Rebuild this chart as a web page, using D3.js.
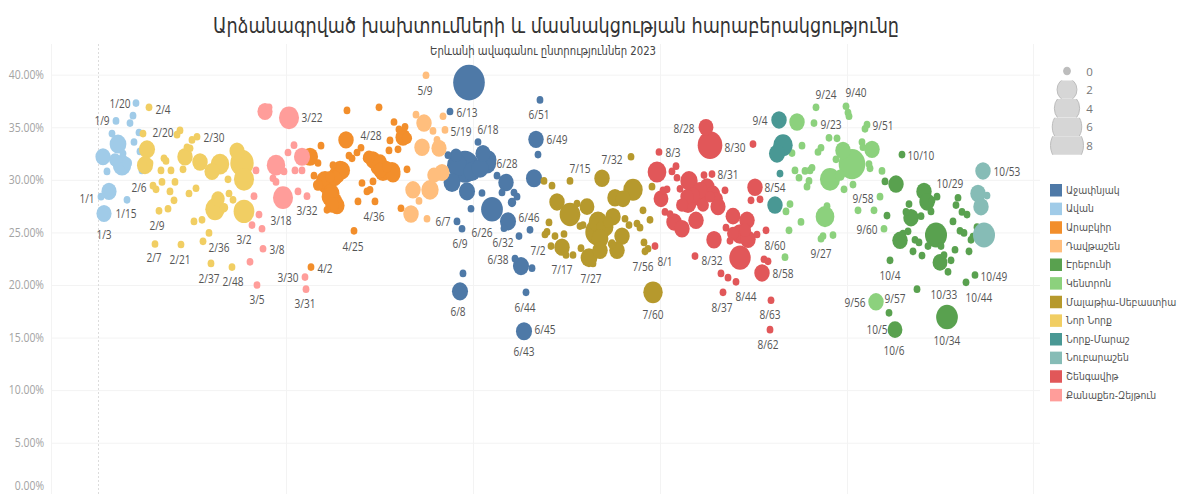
<!DOCTYPE html>
<html lang="hy"><head><meta charset="utf-8">
<script src="https://cdn.jsdelivr.net/npm/d3@7/dist/d3.min.js"></script>
<style>html,body{margin:0;padding:0;background:#fff;overflow:hidden}svg{display:block}</style>
</head><body><svg id="c" width="1185" height="494"></svg>
<script>
// Hidden horizontal axis: unitless position, gridlines every 187 units.
const avanX=[37,34,17,31,13,40,35,41,19,24,4,16,23,28,8,43,10,2,28,5];
const avanY=[37.3,36.1,35.6,35.4,34.4,34.5,33.6,32.7,33.4,32.5,32.2,31.9,31.4,31.6,30.8,30.9,28.9,28.4,28.1,26.8];
const avanSize=[0,0,0,0,0,0,0,0,1.16,0,.81,.3,1.58,.13,0,0,.81,0,0,.81];

const norNorkX=[50,44,81,78,98,93,48,46,51,88,91,86,101,65,67,62,72,84,121,113,138,143,145,129,54,57,63,76,71,97,90,75,69,60,130,134,119,116,125,145,95,103,110,56,82,104,112,133];
const norNorkY=[36.9,34.4,34.7,34.3,34.1,33.8,32.9,31.4,31.6,33.1,33,32.2,31.7,32.05,31.8,30.9,30.9,31,31.5,30.8,32.75,31.6,30.05,30.05,29.45,29.1,29.8,29.8,28.9,29.2,28.7,28.05,27.25,27.05,28.7,28.1,28.2,27.2,27.35,27,26.05,26.2,24.95,23.9,23.85,24.15,22.05,21.7];
const norNorkSize=[0,0,0,0,0,0,1,1,0,0,0,.87,.87,0,0,0,0,0,1.58,.81,.81,3.2,2.06,0,0,0,0,0,0,0,0,0,0,0,0,0,.52,1.86,.03,2.27,0,0,0,0,0,0,0,0];

const kanakerX=[166,170,190,195,189,203,177,185,174,177,196,203,157,184,199,155,160,153,163,164,151,158,206,207,208];
const kanakerY=[36.5,36.9,35.9,33.3,32.6,32.2,31.4,30.8,30.15,29.8,30.9,30.9,30.9,28.3,28.9,28.45,26.7,25.7,25.35,23.45,22.2,20,20.75,19.6,28.45];
const kanakerSize=[.81,0,2.06,0,0,1,1.58,0,0,0,0,0,0,2.06,0,0,0,0,0,0,0,0,0,0,0];

const arabkirX=[248,280,295,306,300,304,308,291,299,290,222,247,262,258,250,253,211,219,268,274,281,279,284,293,288,308,215,241,234,236,226,231,219,263,274,271,268,231,238,228,233,259,276,302,255,212,270,277,284,288,281,294,228,238,232,235,243];
const arabkirY=[36.6,36.9,35.5,35.05,34.8,34.05,33.95,33.75,32.9,32.8,33.25,33.8,33.05,32.6,32.3,32.05,32.2,31.6,32.05,31.9,31.7,31.25,30.8,30.8,31.25,31,30.4,30.95,31.4,30.15,29.85,30.3,29.5,29.7,29.85,29.05,28.9,28.4,27.55,27.15,27.6,27.95,27.95,27.3,25.15,21.7,32.15,31.6,31.2,30.9,30.9,30.55,29.7,30.5,28.7,27.9,30.9];
const arabkirSize=[0,0,0,0,0,.81,.13,0,0,0,0,.87,0,0,0,0,1,0,.03,.81,.52,.81,1.16,1.16,.13,0,0,1,0,.52,1.58,.13,.13,0,0,0,0,1.16,.81,0,.52,0,0,0,0,0,.3,.5,.6,.8,.5,.8,1.9,1,1.2,1.2,1];

const davtashenX=[327,317,344,325,334,346,323,338,340,343,335,314,331,320,312,328];
const davtashenY=[39.95,36.2,36.05,35.4,34.65,34.75,33.1,33.8,33,30.7,30.45,29.05,29.05,28,26.75,26.3];
const davtashenSize=[0,0,0,.87,0,0,.87,0,.81,.81,.52,.87,1.3,0,.87,0];

const ajapnyakX=[370,351,441,437,439,379,384,388,381,357,349,366,353,368,398,407,435,383,415,418,403,413,372,393,409,405,358,363,431,420,416,422,433,364,361,427,425,358,373,389];
const ajapnyakY=[39.25,36.5,37.6,33.85,32.4,33.6,32.5,31.6,31.1,32.35,32.35,31.25,29.75,28.9,30.4,29.75,30.15,28.75,28.8,28.4,28.8,27.85,27.25,27.2,26.05,25.4,26.05,25.35,25.25,24.65,22.5,21.8,21.6,21.1,19.4,19.3,15.6,31.4,30.8,31.9];
const ajapnyakSize=[7.2,0,0,.87,0,0,.81,1.58,1.16,.3,0,5.4,1.16,1,0,.87,1,0,0,0,0,.03,0,2.6,1,0,0,0,0,0,0,1,0,0,1,0,1,2,1.2,1.2];

const malatiaX=[445,453,471,503,532,458,471,478,488,450,448,446,456,465,452,463,467,474,482,481,484,499,498,514,509,526,530,523,518,513,501,490,494,516,524,534,544,551,538,541,553,545,549,546,554,506,501];
const malatiaY=[29.9,29.45,29.9,30.15,32.2,27.9,26.7,27.75,27.45,25.95,25.05,24.8,24.65,24.85,23.7,23.6,22.85,22.85,23.5,25.6,25.7,26,25.05,26.5,26,26.3,25.7,24.65,23.3,23.9,23.3,22.6,22.05,28.3,28.2,29.05,27.1,26.2,25.85,25.45,29.35,24.05,23.45,23.2,19.3,25.5,24.4];
const malatiaSize=[0,0,0,.87,0,.87,2.27,0,.75,0,0,0,0,0,0,.87,0,0,0,0,0,1.58,3.2,.87,.13,0,0,.87,.87,.03,.87,1.16,0,.87,.75,1.86,0,0,0,0,0,0,0,0,1.86,1.16,1.16];

const shengavitX=[560,607,611,654,577,573,558,605,613,578,590,581,568,564,562,626,608,601,589,619,594,611,656,566,571,575,583,597,634,648,652,661,627,667,641,649,658,631,615,556,596,641,665,669,663,622,629,637,624,672,671,601,614,588,604,618,583,634,646];
const shengavitY=[32.65,35,33.3,33.4,31.3,30.8,30.75,30.45,30.55,30.2,29.9,29.15,29.1,29,28.2,29,29.35,28.4,27.75,27.45,28.55,28.4,29.3,26.95,26.75,26,25.35,26.15,26.55,26.15,28.05,28.15,25.45,25.2,24.85,24.35,24.8,24.2,24.3,23.7,22.75,22.6,22.45,22.25,21.15,21.1,20.7,20.3,19.3,18.55,15.75,29,28.7,28.4,27.6,28.2,27.6,24.9,25.2];
const shengavitSize=[0,.75,3.7,0,0,0,1.65,0,0,0,1.3,0,0,0,.75,0,.81,1.16,1.16,.81,.52,.13,.87,0,0,.87,.87,.87,.75,.87,0,0,0,0,1.3,.87,0,0,.87,0,0,2.5,0,0,.87,0,0,0,0,0,0,.75,.6,.5,.3,.3,.3,.3,.3];

const norkMarashX=[680,684,678,681,676];
const norkMarashY=[35.7,33.3,32.5,30.6,27.6];
const norkMarashSize=[.87,1.86,1,0,.87];

const kentronX=[698,717,715,747,749,750,768,766,730,738,763,764,703,693,722,719,773,744,737,753,731,741,770,771,696,706,711,713,783,700,710,708,754,745,781,691,687,759,775,726,728,702,690,785,734,724,722,686,777];
const kentronY=[35.5,36.9,35.4,37,36.4,36.05,35.25,34.85,34,33.95,33.6,33.1,33.25,32.55,33.05,32.65,32.9,32.8,31.95,31.5,30.05,30.45,31.5,31.1,30.9,30.85,30.9,31.15,30.85,30.2,29.9,29.35,29.55,29.1,28.4,27.7,27,27.1,27.1,26.5,27.5,26,25.2,25.35,24.75,24.65,24.4,22.65,18.4];
const kentronSize=[.87,0,0,0,0,0,0,0,0,0,0,0,0,0,0,0,.87,.87,0,4.6,2.06,.13,0,0,0,0,0,0,0,0,0,0,0,0,0,0,0,0,0,1.65,0,0,0,0,0,0,0,0,.87];

const nubarashenX=[884,879,888,882,885];
const nubarashenY=[30.85,28.7,28.5,27.45,24.75];
const nubarashenSize=[.87,.87,0,.87,2.7];

const erebuniX=[803,786,797,825,828,833,838,810,859,857,832,863,868,788,807,812,822,854,837,809,804,801,816,820,861,865,878,874,872,829,842,814,823,856,870,841,845,852,791,849,876,867,818,790,848,796];
const erebuniY=[32.4,29.85,29.6,28.9,27.9,28.05,28.4,27.7,28.3,27.6,27,26.95,26.7,26.6,26.95,26.4,26.55,26.05,24.75,25.1,24.9,24.25,24.3,24.05,25.15,24.95,25.5,24.6,24.3,23.7,23.7,23.2,22.8,23.35,23.2,22.15,22.85,22.35,22.35,21.25,20.95,20.25,19.6,17.35,16.95,15.75];
const erebuniSize=[0,0,.87,.87,.87,0,0,0,0,0,0,0,0,0,0,.87,0,0,2.7,0,0,.87,0,0,0,0,0,0,0,0,0,0,0,0,0,.75,0,0,0,0,0,0,0,0,2.6,.75];

const labelText=["1/20","1/9","1/1","1/15","1/3","2/4","2/20","2/30","2/6","2/9","2/7","2/21","2/36","2/37","2/48","3/2","3/22","3/18","3/32","3/8","3/30","3/5","3/31","4/28","4/36","4/25","4/2","5/9","5/19","6/7","6/13","6/18","6/28","6/51","6/49","6/26","6/46","6/32","6/38","6/9","6/8","6/44","6/45","6/43","7/2","7/15","7/32","7/17","7/27","7/56","7/60","8/28","8/30","8/3","8/31","8/54","8/60","8/58","8/1","8/32","8/44","8/37","8/63","8/62","9/4","9/24","9/40","9/23","9/51","9/58","9/60","9/27","9/56","9/57","10/53","10/10","10/29","10/4","10/33","10/44","10/49","10/5","10/6","10/34"];
const labelX=[21,3,-12,27,5,64,64,115,40,58,55,81,120,110,134,145,213,182,208,178,189,158,206,272,275,254,226,326,362,344,368,389,408,440,458,383,430,404,399,361,359,426,446,425,439,481,513,463,492,544,554,585,636,574,629,676,676,684,566,613,647,623,671,669,661,727,757,732,784,764,768,722,756,796,908,822,851,791,845,880,895,778,795,848];
const labelY=[37.3,35.6,28.2,26.8,24.85,36.7,34.55,34.05,29.3,25.7,22.6,22.45,23.55,20.65,20.3,24.35,35.9,26.1,27.05,23.35,20.75,18.6,18.2,34.2,26.5,23.7,21.55,38.5,34.6,26,36.4,34.8,31.6,36.25,33.8,24.95,26.4,24,22.4,23.9,17.45,17.9,15.77,13.65,23.3,31.1,31.9,21.5,20.6,21.8,17.2,34.9,33.1,32.6,30.5,29.25,23.8,21.05,22.2,22.35,18.9,17.9,17.2,14.35,35.6,38.1,38.3,35.3,35.15,28.25,25.3,22.95,18.3,18.75,30.75,32.3,29.65,20.95,19.05,18.85,20.85,15.75,13.8,14.7];

const yTicks=[0,5,10,15,20,25,30,35,40];
const xGridValues=[187,374,561,748,934];
const sizeLegendValues=[0,2,4,6,8];
const titleText="Արձանագրված խախտումների և մասնակցության հարաբերակցությունը";
const subtitleText="Երևանի ավագանու ընտրություններ 2023";

const districts=[
 {name:"Աջափնյակ",color:"#4E79A7",xs:ajapnyakX,ys:ajapnyakY,sizes:ajapnyakSize},
 {name:"Ավան",color:"#A0CBE8",xs:avanX,ys:avanY,sizes:avanSize},
 {name:"Արաբկիր",color:"#F28E2B",xs:arabkirX,ys:arabkirY,sizes:arabkirSize},
 {name:"Դավթաշեն",color:"#FFBE7D",xs:davtashenX,ys:davtashenY,sizes:davtashenSize},
 {name:"Էրեբունի",color:"#59A14F",xs:erebuniX,ys:erebuniY,sizes:erebuniSize},
 {name:"Կենտրոն",color:"#8CD17D",xs:kentronX,ys:kentronY,sizes:kentronSize},
 {name:"Մալաթիա-Սեբաստիա",color:"#B6992D",xs:malatiaX,ys:malatiaY,sizes:malatiaSize},
 {name:"Նոր Նորք",color:"#F1CE63",xs:norNorkX,ys:norNorkY,sizes:norNorkSize},
 {name:"Նորք-Մարաշ",color:"#499894",xs:norkMarashX,ys:norkMarashY,sizes:norkMarashSize},
 {name:"Նուբարաշեն",color:"#86BCB6",xs:nubarashenX,ys:nubarashenY,sizes:nubarashenSize},
 {name:"Շենգավիթ",color:"#E15759",xs:shengavitX,ys:shengavitY,sizes:shengavitSize},
 {name:"Քանաքեռ-Զեյթուն",color:"#FF9D9A",xs:kanakerX,ys:kanakerY,sizes:kanakerSize}
];

const svg=d3.select("#c");
const x=d3.scaleLinear().domain([0,934]).range([99,1033]);
const y=d3.scaleLinear().domain([0,40]).range([495.3,74.7]);
const r=d3.scaleSqrt().domain([0,8]).range([3.4,16.5]);
const STRETCH=1.13;
const gridColor="#f3f3f3";
const FONT="'Open Sans',sans-serif", ARM="'DejaVu Sans',sans-serif";
function narrow(sel,ratio){
 sel.each(function(){const n=this.getComputedTextLength();d3.select(this).attr("textLength",n*ratio).attr("lengthAdjust","spacingAndGlyphs");});
}

// gridlines
const g=svg.append("g");
g.selectAll("line.h").data(yTicks).join("line").attr("class","h").attr("x1",51).attr("x2",1040)
 .attr("y1",d=>y(d)+.5).attr("y2",d=>y(d)+.5).attr("stroke",gridColor);
g.selectAll("line.v").data(xGridValues).join("line").attr("class","v")
 .attr("x1",d=>Math.round(x(d))+.5).attr("x2",d=>Math.round(x(d))+.5).attr("y1",44).attr("y2",494).attr("stroke",gridColor);
g.append("line").attr("x1",51.5).attr("x2",51.5).attr("y1",44).attr("y2",494).attr("stroke",gridColor);
g.append("line").attr("x1",x(0)-.5).attr("x2",x(0)-.5).attr("y1",44).attr("y2",494).attr("stroke","#dcdcdc").attr("stroke-dasharray","2,2");

// y axis
const yAxis=d3.axisLeft(y).tickValues(yTicks).tickSize(0).tickPadding(7).tickFormat(d=>d3.format(".2f")(d)+"%");
const ax=svg.append("g").attr("transform","translate(51,0)").call(yAxis);
ax.select(".domain").remove();
ax.selectAll("text").attr("fill","#a3a3a3").attr("font-family",FONT).attr("font-size",12)
 .attr("dy",d=>d===0?"-0.5em":"0.32em").call(narrow,0.87);

// marks
districts.forEach(dd=>{
 const pts=d3.range(dd.xs.length).sort((a,b)=>dd.sizes[b]-dd.sizes[a]);
 svg.append("g").selectAll("ellipse").data(pts).join("ellipse")
  .attr("cx",i=>x(dd.xs[i])).attr("cy",i=>y(dd.ys[i]))
  .attr("rx",i=>r(dd.sizes[i])).attr("ry",i=>r(dd.sizes[i])*STRETCH)
  .attr("fill",dd.color);
});

// mark labels
svg.append("g").selectAll("text").data(labelText).join("text")
 .attr("x",(d,i)=>x(labelX[i])).attr("y",(d,i)=>y(labelY[i]))
 .attr("text-anchor","middle").attr("dominant-baseline","central")
 .attr("font-family",FONT).attr("font-size",12).attr("fill","#555").text(d=>d).call(narrow,0.84);

// titles
svg.append("text").attr("x",556).attr("y",33).attr("text-anchor","middle")
 .attr("font-family",ARM).attr("font-size",21).attr("fill","#333")
 .attr("textLength",686).attr("lengthAdjust","spacingAndGlyphs").text(titleText);
svg.append("text").attr("x",543).attr("y",55).attr("text-anchor","middle")
 .attr("font-family",ARM).attr("font-size",11.5).attr("fill","#444")
 .attr("textLength",226).attr("lengthAdjust","spacingAndGlyphs").text(subtitleText);

// size legend
const rowY=d3.scaleLinear().domain([0,8]).range([71,145.5]);
const defs=svg.append("defs");
sizeLegendValues.forEach((v,i)=>{
 defs.append("clipPath").attr("id","cl"+i).append("rect").attr("x",1040).attr("width",60)
  .attr("y",rowY(v)-9.2).attr("height",18.4);
 svg.append("ellipse").attr("clip-path",`url(#cl${i})`).attr("cx",1067).attr("cy",rowY(v))
  .attr("rx",r(v)).attr("ry",r(v)*STRETCH)
  .attr("fill",v===0?"#bdbdbd":"#d6d6d6").attr("stroke","#bcbcbc");
 svg.append("text").attr("x",1089.5).attr("y",rowY(v)).attr("text-anchor","middle").attr("dominant-baseline","central")
  .attr("font-family",FONT).attr("font-size",11.5).attr("fill","#777").text(v);
});

// colour legend
const legY=d3.scaleBand().domain(districts.map(d=>d.name)).range([181,404.5]);
const leg=svg.append("g");
leg.selectAll("rect").data(districts).join("rect").attr("x",1050).attr("width",12)
 .attr("y",d=>legY(d.name)+3).attr("height",12.5).attr("fill",d=>d.color);
leg.selectAll("text").data(districts).join("text").attr("x",1066).attr("y",d=>legY(d.name)+legY.bandwidth()/2)
 .attr("dominant-baseline","central").attr("font-family",ARM).attr("font-size",9.8).attr("fill","#555").text(d=>d.name)
 .call(narrow,0.945);
</script></body></html>
